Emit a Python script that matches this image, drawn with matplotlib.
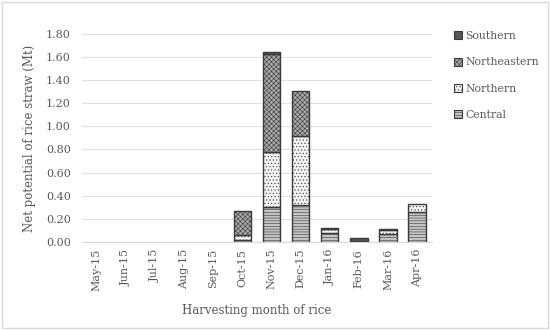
import numpy as np
import matplotlib.pyplot as plt
import matplotlib as mpl
from matplotlib.patches import Rectangle, Patch

mpl.rcParams['hatch.linewidth'] = 0.4
plt.rcParams['font.family'] = ['DejaVu Serif']

months = ["May-15", "Jun-15", "Jul-15", "Aug-15", "Sep-15", "Oct-15",
          "Nov-15", "Dec-15", "Jan-16", "Feb-16", "Mar-16", "Apr-16"]
central = [0, 0, 0, 0, 0, 0.02, 0.30, 0.32, 0.08, 0.01, 0.07, 0.26]
northern = [0, 0, 0, 0, 0, 0.04, 0.48, 0.60, 0.03, 0.00, 0.03, 0.07]
northeastern = [0, 0, 0, 0, 0, 0.21, 0.85, 0.39, 0.01, 0.00, 0.01, 0.00]
southern = [0, 0, 0, 0, 0, 0.00, 0.01, 0.00, 0.00, 0.02, 0.00, 0.00]

fig = plt.figure(figsize=(5.5, 3.3), dpi=100)
ax = fig.add_axes([0.149, 0.267, 0.636, 0.630])

x = np.arange(len(months))
w = 0.6
c = np.array(central)
n = np.array(northern)
ne = np.array(northeastern)
s = np.array(southern)

styles = {
    "Central": dict(facecolor="#c4c4c4", hatch="------"),
    "Northern": dict(facecolor="#f2f2f2", hatch="....."),
    "Northeastern": dict(facecolor="#a8a8a8", hatch="xxxxxxx"),
    "Southern": dict(facecolor="#555555"),
}

# only draw nonzero segments (zero-height bars would leave an edge line)
bottom = np.zeros(len(x))
for name, vals in [("Central", c), ("Northern", n), ("Northeastern", ne), ("Southern", s)]:
    m = vals > 0
    ax.bar(x[m], vals[m], w, bottom=bottom[m], edgecolor="#3a3a3a", linewidth=1.0, **styles[name])
    bottom = bottom + vals

ax.set_ylim(0, 1.8)
ax.set_xlim(-0.5, len(months) - 0.5)
ax.set_yticks(np.arange(0, 1.81, 0.2))
ax.set_yticklabels(["%.2f" % v for v in np.arange(0, 1.81, 0.2)])
ax.set_xticks(x)
ax.set_xticklabels(months, rotation=90)
ax.tick_params(axis="both", length=0, labelsize=8, colors="#595959")
ax.tick_params(axis="y", pad=8)
ax.tick_params(axis="x", pad=5)
ax.yaxis.grid(True, color="#e0e0e0", linewidth=0.8)
ax.set_axisbelow(True)
for side in ["top", "right", "left"]:
    ax.spines[side].set_visible(False)
ax.spines["bottom"].set_color("#d9d9d9")

ax.set_ylabel("Net potential of rice straw (Mt)", fontsize=8.5, color="#595959", labelpad=7)
ax.set_xlabel("Harvesting month of rice", fontsize=8.5, color="#595959", labelpad=9)

handles = [Patch(edgecolor="#3a3a3a", linewidth=0.8, label=k, **styles[k])
           for k in ["Southern", "Northeastern", "Northern", "Central"]]
fig.legend(handles=handles, loc="upper left", bbox_to_anchor=(0.808, 0.935),
           frameon=False, fontsize=7.8, labelcolor="#595959", labelspacing=1.5,
           handlelength=0.75, handleheight=0.75, handletextpad=0.25)

fig.patches.append(Rectangle((0.004, 0.006), 0.992, 0.988, transform=fig.transFigure,
                             fill=False, edgecolor="#d9d9d9", linewidth=1))

fig.savefig("out.png", dpi=100)
